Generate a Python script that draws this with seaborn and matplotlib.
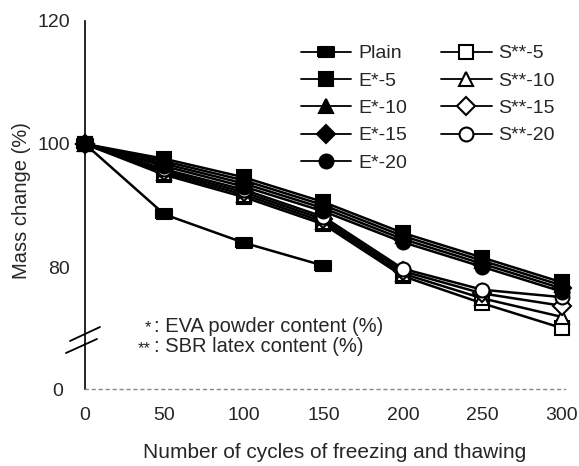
import matplotlib
matplotlib.use("Agg")
import matplotlib.pyplot as plt
import seaborn as sns
import pandas as pd
from matplotlib.lines import Line2D

# ---- data ----
cycles = [0, 50, 100, 150, 200, 250, 300]
plain_cycles = [0, 50, 100, 150]
plain = [100, 88.6, 84.0, 80.3]
e5 = [100, 97.6, 94.6, 90.6, 85.6, 81.6, 77.6]
e10 = [100, 97.2, 94.1, 90.1, 85.1, 81.1, 77.1]
e15 = [100, 96.8, 93.6, 89.6, 84.6, 80.6, 76.6]
e20 = [100, 96.4, 93.1, 89.1, 84.1, 80.1, 76.1]
s5 = [100, 95.0, 91.4, 87.0, 78.6, 74.2, 70.2]
s10 = [100, 95.3, 91.8, 87.4, 79.0, 75.0, 72.0]
s15 = [100, 95.6, 92.2, 87.8, 79.4, 75.8, 73.8]
s20 = [100, 95.9, 92.6, 88.2, 79.8, 76.4, 75.2]
labels = ["Plain", "E*-5", "E*-10", "E*-15", "E*-20",
          "S**-5", "S**-10", "S**-15", "S**-20"]
xticks = [0, 50, 100, 150, 200, 250, 300]
yticks_top = [80, 100, 120]

sns.set_style("white")
plt.rcParams['font.family'] = ['Liberation Sans', 'DejaVu Sans']

W, H = 579, 466
fig = plt.figure(figsize=(W / 100, H / 100), dpi=100)

def fx(px):
    return px / W

def fy(py):
    return 1 - py / H

left_px, right_px = 85, 565
top_px, mid_px, bot_px = 20.5, 344, 389
ax = fig.add_axes([fx(left_px), fy(mid_px), fx(right_px - left_px), (mid_px - top_px) / H])
axb = fig.add_axes([fx(left_px), fy(bot_px), fx(right_px - left_px), (bot_px - mid_px) / H])

scale = 6.175
ax.set_ylim(120 - (mid_px - top_px) / scale, 120)
ax.set_xlim(0, 302)
axb.set_xlim(0, 302)
axb.set_ylim(0, 6)

rect = [(-1.5, -0.85), (1.5, -0.85), (1.5, 0.85), (-1.5, 0.85), (-1.5, -0.85)]
series = [
    (plain_cycles, plain, rect, 'black', 12, 4),
    (cycles, e5, 's', 'black', 10, 4),
    (cycles, e10, '^', 'black', 10, 4),
    (cycles, e15, 'D', 'black', 9, 4),
    (cycles, e20, 'o', 'black', 10, 4),
    (cycles, s5, 's', 'white', 10, 3),
    (cycles, s10, '^', 'white', 10, 3),
    (cycles, s15, 'D', 'white', 9, 3),
    (cycles, s20, 'o', 'white', 10, 3),
]
handles = []
for (xs, ys, mk, fc, ms, z), lab in zip(series, labels):
    df = pd.DataFrame({"x": xs, "y": ys})
    sns.lineplot(data=df, x="x", y="y", ax=ax, color='black', lw=1.8,
                 marker=mk, markersize=ms, markerfacecolor=fc,
                 markeredgecolor='black', markeredgewidth=1.5, clip_on=False,
                 zorder=z)
    handles.append(Line2D([], [], color='black', lw=1.3, marker=mk, markersize=ms,
                          markerfacecolor=fc, markeredgecolor='black',
                          markeredgewidth=1.5))

for a in (ax, axb):
    for s in ('top', 'right'):
        a.spines[s].set_visible(False)
    a.spines['left'].set_linewidth(1.2)
    a.spines['left'].set_color('black')
    a.set_xlabel("")
    a.set_ylabel("")

FS = 14
ax.spines['bottom'].set_visible(False)
ax.set_xticks([])
ax.set_yticks(yticks_top)
ax.tick_params(axis='y', direction='in', length=3, width=1, pad=11, labelsize=FS)

axb.spines['bottom'].set_linestyle((0, (2, 3)))
axb.spines['bottom'].set_color('#888888')
axb.spines['bottom'].set_linewidth(1)
axb.set_yticks([0])
axb.set_xticks(xticks)
axb.tick_params(axis='y', direction='in', length=3, pad=16, labelsize=FS)
axb.tick_params(axis='x', direction='in', length=3, color='#999999', pad=13, labelsize=FS)

leg = ax.legend(handles, labels, ncol=2, loc='upper left',
                bbox_to_anchor=(fx(291), fy(35)), bbox_transform=fig.transFigure,
                frameon=False, fontsize=FS, handlelength=2.6, handletextpad=0.35,
                labelspacing=0.5, columnspacing=1.75, borderpad=0)

# axis break marks
for (x0, y0, x1, y1) in [(70, 341, 100, 327), (66, 353, 97, 339)]:
    fig.add_artist(Line2D([fx(x0), fx(x1)], [fy(y0), fy(y1)], color='black', lw=1.3))

fig.text(fx(22), fy(201), "Mass change (%)", rotation=90, ha='center', va='center', fontsize=14.5)
fig.text(fx(335), fy(452), "Number of cycles of freezing and thawing", ha='center', va='center', fontsize=15)

fig.text(fx(151), fy(328), "*", ha='right', va='center', fontsize=12)
fig.text(fx(151), fy(349), "**", ha='right', va='center', fontsize=12)
fig.text(fx(154), fy(326), ": EVA powder content (%)", ha='left', va='center', fontsize=14.5)
fig.text(fx(154), fy(347), ": SBR latex content (%)", ha='left', va='center', fontsize=14.5)

fig.savefig("out.png", dpi=100)
